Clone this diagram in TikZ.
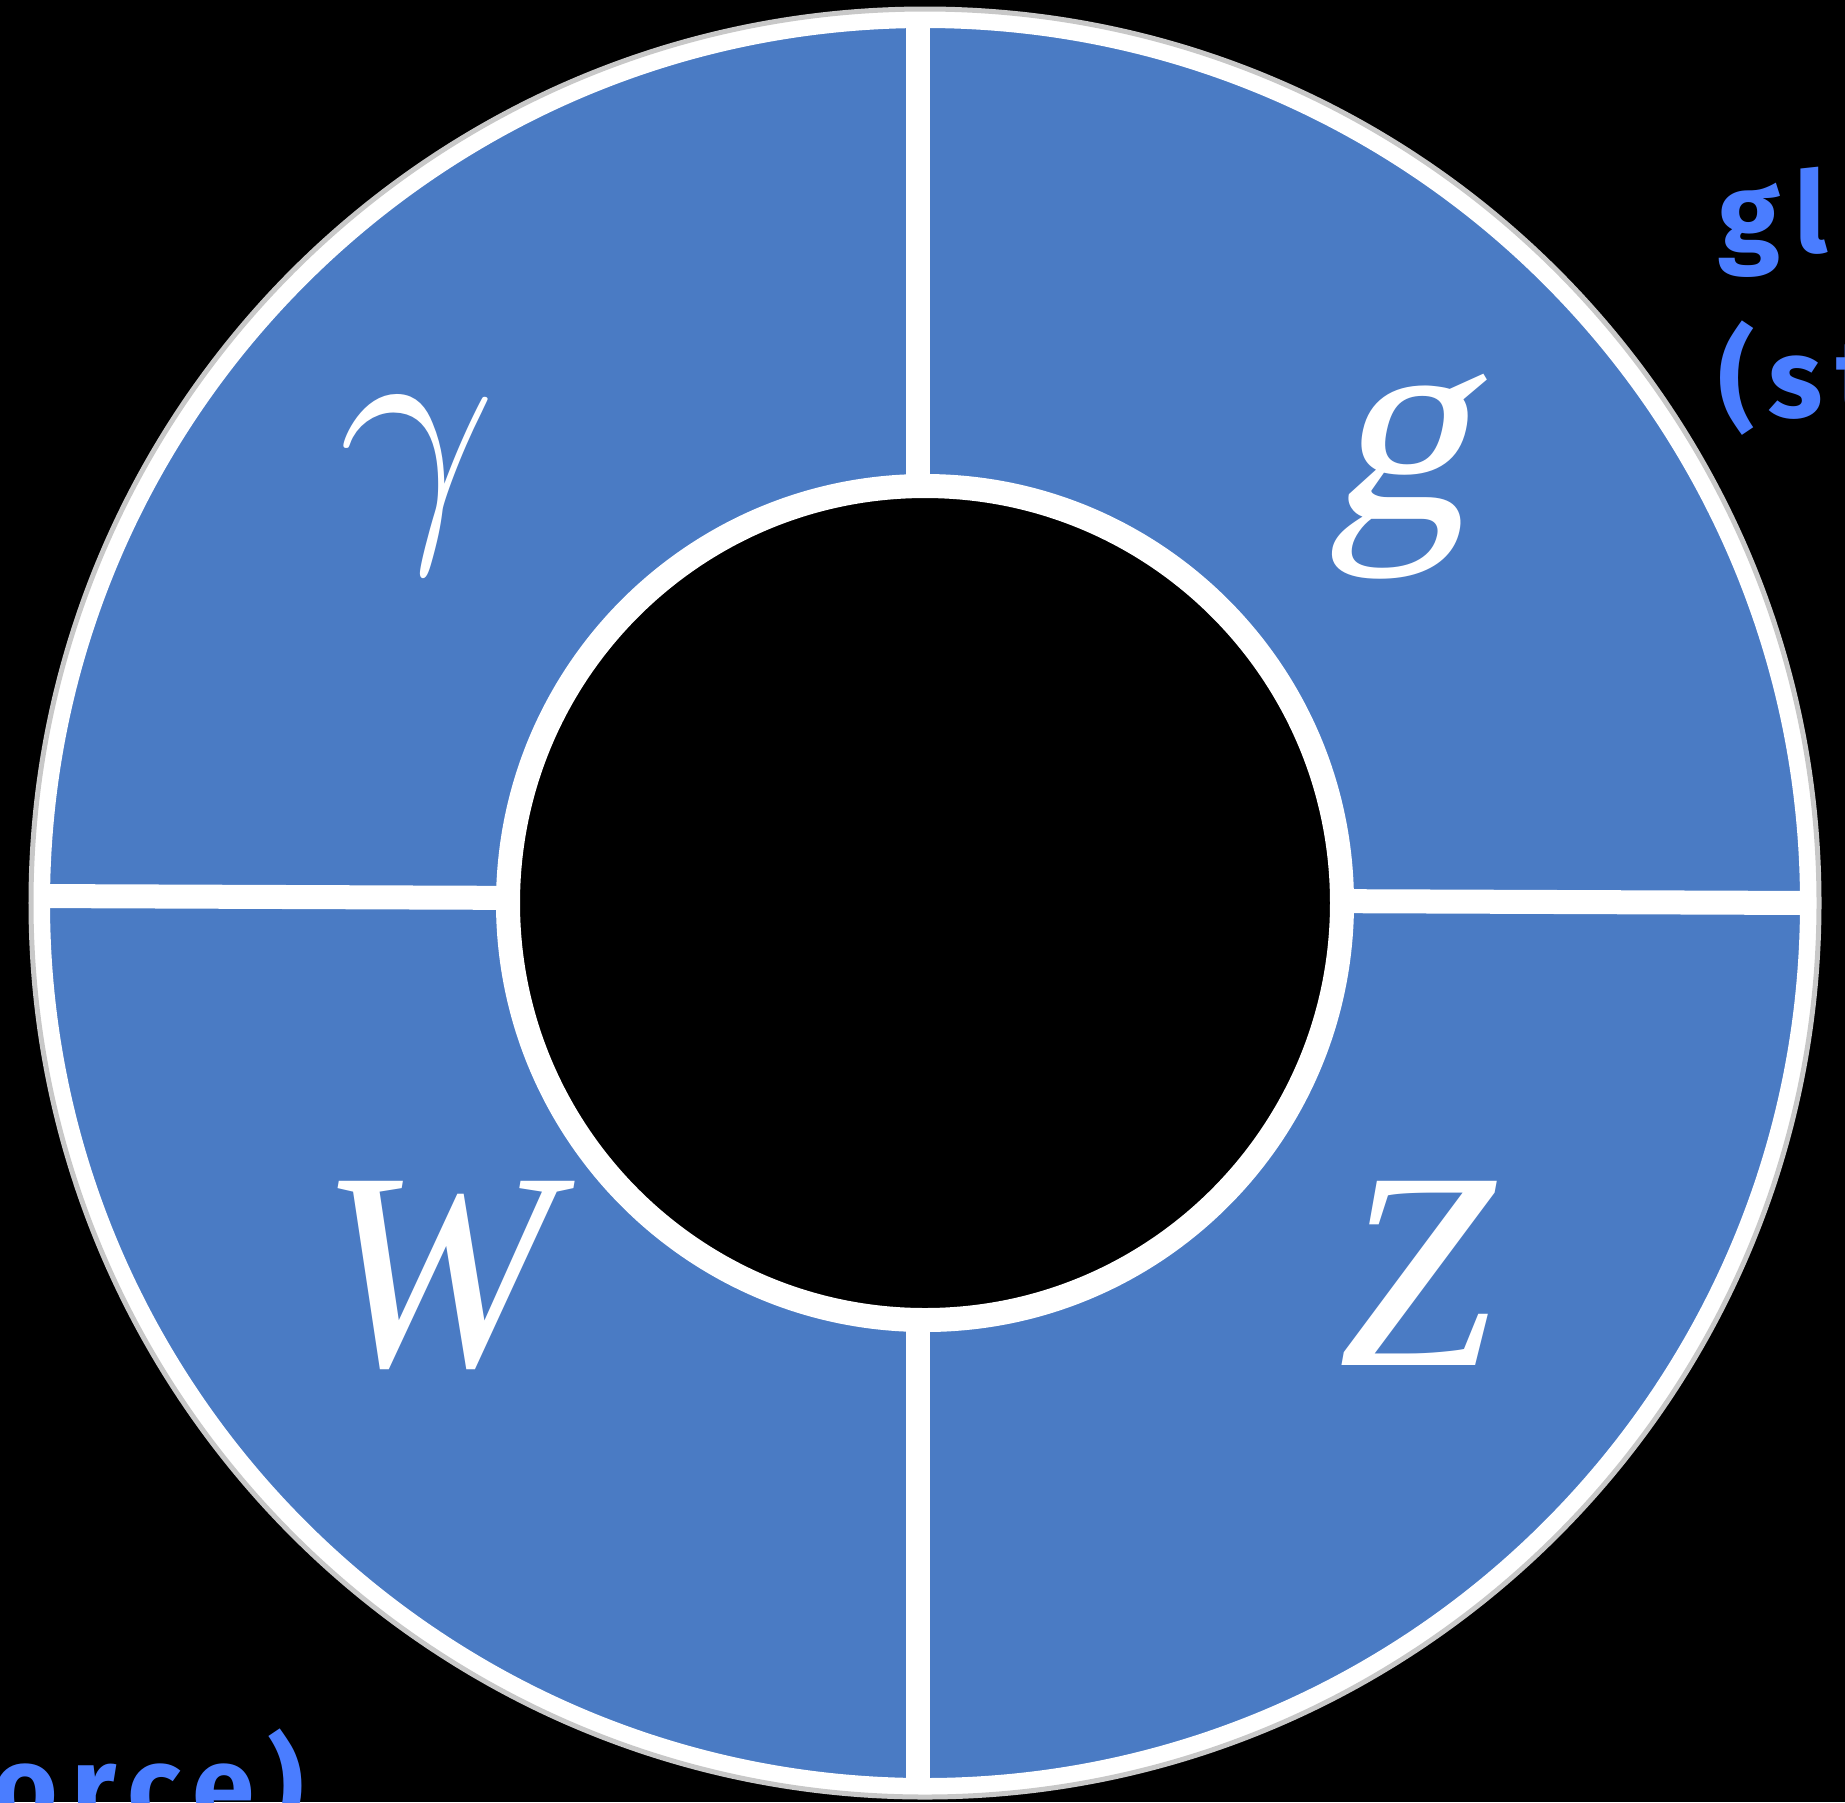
\RequirePackage{fix-cm}
\documentclass[tikz,border=0pt]{standalone}
\usepackage{fontspec}
\setmainfont{Liberation Serif}
\newfontfamily\slantserif[FakeSlant=0.22]{Liberation Serif}
\newfontfamily\handfont[LetterSpace=12]{Fira Sans}
\definecolor{sectorblue}{HTML}{4A7BC4}
\definecolor{inkblue}{HTML}{4A7DFF}
\definecolor{rimgray}{HTML}{C8C8C8}
\begin{document}
\begin{tikzpicture}[x=0.01cm,y=-0.01cm,
  boson/.style={text=white,inner sep=0pt,anchor=base,font=\fontsize{80}{80}\selectfont\itshape},
  note/.style={text=inkblue,inner sep=0pt,font=\handfont\bfseries\fontsize{32}{32}\selectfont},
  divider/.style={white,line width=2.4mm}]
\fill[black] (0,0) rectangle (1845,1802);
\clip (0,0) rectangle (1845,1802);
\coordinate (c) at (925,903);
% outer disk with the four sectors
\fill[sectorblue] (c) circle (894);
\draw[divider] (918,12) -- (918,1795);
\draw[divider] (35,896) -- (1815,903);
\draw[white,line width=1.8mm] (c) circle (884);
\draw[rimgray,line width=0.5mm] (c) circle (894);
% hole in the middle
\fill[black,draw=white,line width=2.4mm] (c) circle (417);
% labels
\node[boson] (gamma) at (418,518) {$\gamma$};
\node[boson,font=\fontsize{80}{80}\selectfont\slantserif] (gluon) at (1398,518) {g};
\node[boson] (wbos) at (437,1365) {W};
\node[boson] (zbos) at (1417,1365) {Z};
% notes, cut off at the edges
\node[note,anchor=base west] (noteg) at (1718,252) {glu};
\node[note,anchor=base west] (notes) at (1718,417) {(st};
\node[note,anchor=base west] (notef) at (-8,1825) {orce)};
\end{tikzpicture}
\end{document}
